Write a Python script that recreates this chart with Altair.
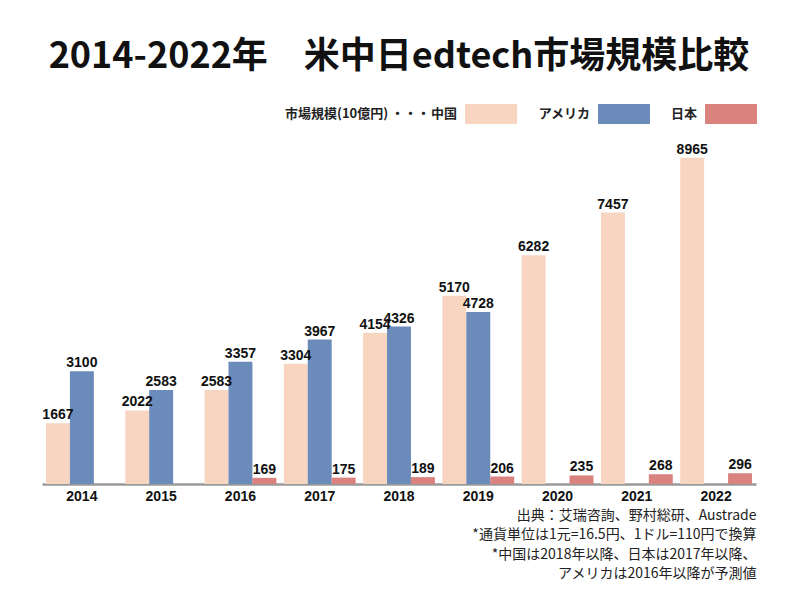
import altair as alt
import pandas as pd

years = ["2014", "2015", "2016", "2017", "2018", "2019", "2020", "2021", "2022"]
series = ["中国", "アメリカ", "日本"]
china = [1667, 2022, 2583, 3304, 4154, 5170, 6282, 7457, 8965]
usa = [3100, 2583, 3357, 3967, 4326, 4728, None, None, None]
japan = [None, None, 169, 175, 189, 206, 235, 268, 296]
colors = ["#F8D5C1", "#6B8CBB", "#D9827E"]
notes = [
    "出典：艾瑞咨詢、野村総研、Austrade",
    "*通貨単位は1元=16.5円、1ドル=110円で換算",
    "*中国は2018年以降、日本は2017年以降、",
    "アメリカは2016年以降が予測値",
]

rows = []
for i, y in enumerate(years):
    for s, vals in zip(series, [china, usa, japan]):
        v = vals[i]
        if v is not None:
            rows.append({"year": y, "series": s, "value": v})
df = pd.DataFrame(rows)

base = alt.Chart(df).encode(
    x=alt.X(
        "year:N",
        sort=years,
        scale=alt.Scale(paddingInner=0.094, paddingOuter=0.05),
        axis=alt.Axis(
            title=notes,
            titleFont="Noto Sans CJK JP",
            titleFontSize=14,
            titleFontWeight="normal",
            titleColor="#222222",
            titleLineHeight=19.5,
            titleAlign="right",
            titleAnchor="end",
            titleBaseline="top",
            titleX=714,
            titleY=24,
            labelAngle=0,
            labelFont="Liberation Sans",
            labelFontWeight="bold",
            labelFontSize=14,
            labelColor="#111111",
            labelPadding=5,
            ticks=False,
            grid=False,
            domainColor="#9a9a9a",
            domainWidth=2.5,
        ),
    ),
    xOffset=alt.XOffset("series:N", sort=series, scale=alt.Scale(domain=series)),
    y=alt.Y("value:Q", scale=alt.Scale(domain=[0, 9450], nice=False), axis=None),
)

bars = base.mark_bar().encode(
    color=alt.Color(
        "series:N",
        sort=series,
        scale=alt.Scale(domain=series, range=colors),
        legend=alt.Legend(
            orient="none",
            legendX=243,
            legendY=-36,
            direction="horizontal",
            title="市場規模(10億円) ・・・",
            titleOrient="left",
            titleFont="Noto Sans CJK JP",
            titleFontSize=13,
            titleFontWeight="bold",
            titleColor="#222222",
            titlePadding=6,
            labelFont="Noto Sans CJK JP",
            labelFontSize=13,
            labelFontWeight="bold",
            labelColor="#222222",
            labelAlign="right",
            labelOffset=0,
            symbolType="M1.8,-1H7H1.8V1H7V-1Z",
            symbolSize=400,
            symbolStrokeWidth=0,
            symbolOpacity=1,
            columnPadding=20,
        ),
    )
)

labels = base.mark_text(
    dy=-8, font="Liberation Sans", fontWeight="bold", fontSize=14, color="#111111"
).encode(text=alt.Text("value:Q", format="d"))

chart = (
    alt.layer(bars, labels)
    .properties(
        width=714,
        height=344,
        autosize=alt.AutoSizeParams(type="none"),
        padding={"left": 34, "top": 132, "right": 36, "bottom": 108},
        title=alt.TitleParams(
            "2014-2022年　米中日edtech市場規模比較",
            font="Noto Sans CJK JP",
            fontSize=36,
            fontWeight="bold",
            color="#111111",
            anchor="middle",
            offset=28,
        ),
        background="white",
    )
    .configure_view(stroke=None)
)

chart.save("out.html", embed_options={"renderer": "svg", "actions": False})
